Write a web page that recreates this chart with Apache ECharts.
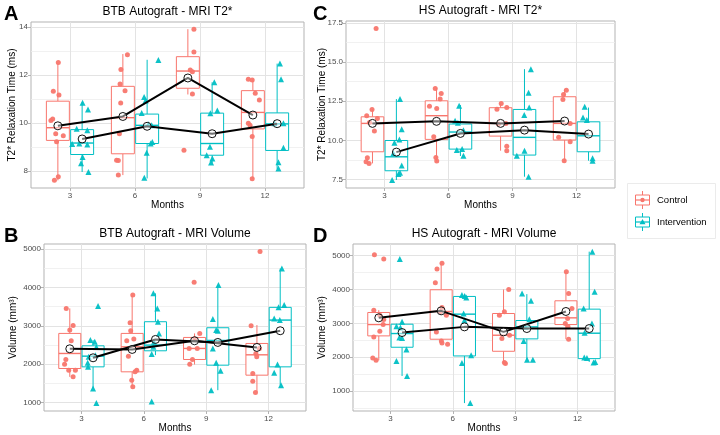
<!DOCTYPE html>
<html><head><meta charset="utf-8">
<script src="https://cdn.jsdelivr.net/npm/echarts@6/dist/echarts.min.js"></script>
<style>html,body{margin:0;padding:0;background:#fff}#c{width:720px;height:435px}</style>
</head><body><div id="c"></div>
<script>
// ---------------- DATA ----------------
const months = [3, 6, 9, 12];
const xTickLabels = [3, 6, 9, 12];
const groups = ['Control', 'Intervention'];

// Panel A: BTB Autograft - MRI T2*  (box: [lowWhisker, Q1, median, Q3, highWhisker])
const A_yTicks = [8, 10, 12, 14];
const A_yMinor = [9, 11, 13];
const A_ctrl_box = [[7.60, 9.27, 9.80, 10.91, 12.53], [7.82, 8.71, 10.22, 11.53, 12.88], [11.19, 11.45, 12.17, 12.77, 13.92], [7.65, 9.75, 10.44, 11.35, 11.84]];
const A_int_box  = [[7.95, 8.68, 9.16, 9.72, 10.87], [7.68, 9.14, 9.90, 10.37, 12.64], [8.33, 8.65, 9.14, 10.41, 11.70], [8.08, 8.85, 9.96, 10.42, 12.48]];
const A_ctrl_mean = [9.88, 10.27, 11.88, 10.33];
const A_int_mean  = [9.33, 9.86, 9.55, 9.97];
const A_ctrl_pts = [[2.46,12.53],[2.23,11.33],[2.49,11.17],[2.12,10.10],[2.20,10.16],[2.34,9.55],[2.69,9.46],[2.38,9.21],[2.46,7.75],[2.28,7.60],
  [5.65,12.85],[5.35,12.23],[5.31,11.63],[5.54,11.35],[5.34,10.83],[5.28,9.55],[5.15,8.44],[5.23,8.43],[5.23,7.82],
  [8.72,13.92],[8.72,12.97],[8.55,12.21],[8.65,12.14],[8.65,11.21],[8.26,8.86],
  [11.23,11.83],[11.41,11.79],[11.55,11.24],[11.74,10.96],[11.23,9.99],[11.31,9.90],[11.41,9.43],[11.41,7.67]];
const A_int_pts = [[3.58,10.84],[3.83,10.56],[3.31,9.76],[3.80,9.69],[3.10,9.12],[3.43,9.14],[3.80,9.10],[3.58,8.58],[3.51,8.31],[3.85,7.95],
  [7.08,12.63],[6.42,11.08],[6.49,10.94],[6.31,10.42],[6.62,9.94],[6.77,9.90],[6.80,9.20],[6.72,9.14],[6.54,8.75],[6.43,7.71],
  [9.66,11.70],[9.80,10.52],[9.48,10.41],[9.46,9.00],[9.31,8.65],[9.57,8.51],[9.51,8.35],
  [12.69,12.48],[12.74,11.83],[12.44,9.99],[12.85,9.99],[12.85,8.96],[12.62,8.36],[12.62,8.10]];

// Panel B: BTB Autograft - MRI Volume
const B_yTicks = [1000, 2000, 3000, 4000, 5000];
const B_yMinor = [1500, 2500, 3500, 4500];
const B_ctrl_box = [[1671, 1889, 2281, 2804, 3457], [1410, 1802, 2455, 2804, 3806], [1993, 2124, 2412, 2699, 2804], [1279, 1715, 2246, 2542, 3022]];
const B_int_box  = [[1366, 1932, 2211, 2481, 2630], [2237, 2351, 2499, 3109, 3850], [1323, 1976, 2621, 2952, 4068], [1453, 1932, 3152, 3484, 4495]];
const B_ctrl_mean = [2403, 2386, 2612, 2438];
const B_int_mean  = [2168, 2647, 2569, 2874];
const B_ctrl_pts = [[2.27,3457],[2.60,3013],[2.44,2891],[2.51,2612],[2.25,2124],[2.19,2002],[2.39,1845],[2.71,1845],[2.60,1671],
  [5.47,3806],[5.34,3083],[5.37,2874],[5.52,2656],[5.18,2612],[5.26,2211],[5.66,1845],[5.58,1802],[5.42,1584],[5.47,1410],
  [8.42,4137],[8.69,2804],[8.45,2664],[8.18,2412],[8.57,2412],[8.34,2124],[8.21,2002],
  [11.59,4939],[11.16,3004],[11.56,2412],[11.39,2281],[11.43,2194],[11.24,1758],[11.24,1558],[11.37,1261]];
const B_int_pts = [[3.80,3519],[3.43,2630],[3.64,2586],[3.72,2447],[3.67,2237],[3.35,2194],[3.30,2037],[3.32,1932],[3.56,1366],[3.72,991],
  [6.46,3850],[6.65,3457],[6.68,3109],[6.73,2804],[6.49,2586],[6.46,2455],[6.38,2264],[6.38,1026],
  [9.59,4068],[9.32,3179],[9.48,2891],[9.56,2874],[9.32,2412],[9.48,2037],[9.69,1828],[9.24,1323],
  [12.64,4495],[12.75,3545],[12.48,3484],[12.27,3196],[12.54,3152],[12.43,1993],[12.27,1776],[12.60,1453]];

// Panel C: HS Autograft - MRI T2*
const C_yTicks = [7.5, 10, 12.5, 15, 17.5];
const C_yMinor = [8.75, 11.25, 13.75, 16.25];
const C_ctrl_box = [[8.54, 9.28, 11.09, 11.51, 12.0], [8.65, 10.07, 11.58, 12.53, 13.34], [9.35, 10.28, 11.09, 12.09, 12.36], [8.71, 10.03, 11.09, 12.79, 13.25]];
const C_int_box  = [[7.48, 8.07, 8.96, 10.0, 12.64], [9.01, 9.45, 10.54, 11.05, 12.26], [7.69, 9.07, 10.2, 11.98, 14.55], [8.71, 9.28, 10.3, 11.19, 12.1]];
const C_ctrl_mean = [11.09, 11.22, 11.09, 11.24];
const C_int_mean  = [9.26, 10.45, 10.66, 10.41];
const C_ctrl_pts = [[2.61,17.14],[2.42,11.98],[2.17,11.58],[2.67,11.41],[2.30,11.15],[2.53,10.60],[2.20,8.90],[2.14,8.65],[2.28,8.54],
  [5.38,13.32],[5.66,13.0],[5.61,12.64],[5.11,12.19],[5.45,12.04],[5.31,10.24],[5.41,8.92],[5.45,8.69],
  [8.47,12.36],[8.27,12.0],[8.73,12.1],[8.69,11.09],[8.34,11.05],[8.73,9.64],[8.73,9.35],
  [11.52,13.21],[11.39,12.94],[11.36,12.62],[11.70,11.09],[11.16,10.2],[11.70,9.92],[11.42,8.71]];
const C_int_pts = [[3.73,12.64],[3.81,10.71],[3.70,10.07],[3.47,9.86],[3.42,9.18],[3.81,8.41],[3.73,7.95],[3.66,7.86],[3.36,7.48],
  [6.50,12.21],[6.31,11.26],[6.44,11.13],[6.70,10.66],[6.39,9.39],[6.64,9.45],[6.70,9.03],
  [9.86,14.55],[9.75,13.04],[9.78,12.1],[9.55,11.62],[9.20,9.03],[9.56,9.35],[9.75,7.69],
  [12.38,12.15],[12.30,11.47],[12.48,11.30],[12.75,8.86],[12.75,8.71]];

// Panel D: HS Autograft - MRI Volume
const D_yTicks = [1000, 2000, 3000, 4000, 5000];
const D_yMinor = [500, 1500, 2500, 3500, 4500];
const D_ctrl_box = [[1909, 2630, 2965, 3321, 3390], [2383, 2531, 3351, 3993, 4773], [1810, 2175, 2649, 3291, 4002], [2531, 2965, 3163, 3667, 4526]];
const D_int_box  = [[1444, 2294, 2699, 2975, 3044], [644, 2037, 3272, 3795, 3854], [1928, 2541, 2896, 3084, 3864], [1859, 1958, 2709, 3420, 5119]];
const D_ctrl_mean = [3163, 3370, 2748, 3351];
const D_int_mean  = [2728, 2896, 2847, 2847];
const D_ctrl_pts = [[2.23,5030],[2.68,4901],[2.20,3390],[2.49,3242],[2.68,3114],[2.65,2965],[2.49,2768],[2.20,2600],[2.15,1978],[2.31,1909],
  [5.48,4773],[5.24,4605],[5.16,4200],[5.48,3469],[5.40,3341],[5.69,3242],[5.21,2748],[5.45,2481],[5.48,2422],[5.75,2383],
  [8.69,4002],[8.48,3341],[8.24,3242],[8.73,2649],[8.36,2551],[8.53,1810],[8.48,1840],
  [11.46,4526],[11.57,3884],[11.73,3440],[11.52,3143],[11.41,2995],[11.54,2896],[11.57,2531]];
const D_int_pts = [[3.45,4901],[3.56,3044],[3.29,2916],[3.48,2877],[3.43,2580],[3.56,2570],[3.77,2225],[3.29,1889],[3.80,1444],
  [6.44,3835],[6.57,3805],[6.65,3765],[6.52,3291],[6.56,3094],[6.88,2057],[6.44,1830],[6.84,644],
  [9.33,3884],[9.76,3667],[9.68,3124],[9.49,2896],[9.41,2481],[9.57,1928],[9.85,1928],
  [12.71,5119],[12.82,3933],[12.29,3440],[12.69,2995],[12.34,2719],[12.32,1988],[12.45,1978],[12.85,1859],[12.77,1840]];

// ---------------- STYLE / LAYOUT ----------------
const RED = '#F8766D', TEAL = '#00BFC4';
const DODGE = 0.56, HALF_W = 0.53;
const FONT = '"Liberation Sans", Arial, Helvetica, sans-serif';

const panels = [
  {letter:'A', title:'BTB Autograft - MRI T2*', ytitle:'T2* Relaxation Time (ms)', grid:{left:31, top:22, width:273, height:166},
   yMin:7.28, yMax:14.22, yTicks:A_yTicks, yMinor:A_yMinor, fmt:v=>String(v),
   cb:A_ctrl_box, ib:A_int_box, cm:A_ctrl_mean, im:A_int_mean, cp:A_ctrl_pts, ip:A_int_pts,
   letterPos:[4,4], ytx:12},
  {letter:'B', title:'BTB Autograft - MRI Volume', ytitle:'Volume (mm\u00B3)', grid:{left:44, top:244, width:262, height:167},
   yMin:780, yMax:5137, yTicks:B_yTicks, yMinor:B_yMinor, fmt:v=>String(v),
   cb:B_ctrl_box, ib:B_int_box, cm:B_ctrl_mean, im:B_int_mean, cp:B_ctrl_pts, ip:B_int_pts,
   letterPos:[4,226], ytx:13},
  {letter:'C', title:'HS Autograft - MRI T2*', ytitle:'T2* Relaxation Time (ms)', grid:{left:346, top:21, width:269, height:167},
   yMin:6.97, yMax:17.62, yTicks:C_yTicks, yMinor:C_yMinor, fmt:v=>v.toFixed(1),
   cb:C_ctrl_box, ib:C_int_box, cm:C_ctrl_mean, im:C_int_mean, cp:C_ctrl_pts, ip:C_int_pts,
   letterPos:[313,4], ytx:322},
  {letter:'D', title:'HS Autograft - MRI Volume', ytitle:'Volume (mm\u00B3)', grid:{left:353, top:244, width:262, height:167},
   yMin:410, yMax:5345, yTicks:D_yTicks, yMinor:D_yMinor, fmt:v=>String(v),
   cb:D_ctrl_box, ib:D_int_box, cm:D_ctrl_mean, im:D_int_mean, cp:D_ctrl_pts, ip:D_int_pts,
   letterPos:[313,226], ytx:322}
];

function boxRender(color) {
  return function (params, api) {
    const x = api.value(0);
    const pLo = api.coord([x, api.value(1)]);
    const pQ1 = api.coord([x, api.value(2)]);
    const pMed = api.coord([x, api.value(3)]);
    const pQ3 = api.coord([x, api.value(4)]);
    const pHi = api.coord([x, api.value(5)]);
    const xl = api.coord([x - HALF_W, api.value(3)])[0];
    const xr = api.coord([x + HALF_W, api.value(3)])[0];
    const st = {stroke: color, lineWidth: 1, fill: null};
    return {type: 'group', children: [
      {type: 'line', shape: {x1: pLo[0], y1: pLo[1], x2: pQ1[0], y2: pQ1[1]}, style: st},
      {type: 'line', shape: {x1: pQ3[0], y1: pQ3[1], x2: pHi[0], y2: pHi[1]}, style: st},
      {type: 'rect', shape: {x: xl, y: pQ3[1], width: xr - xl, height: pQ1[1] - pQ3[1]}, style: {stroke: color, lineWidth: 1, fill: '#fff'}},
      {type: 'line', shape: {x1: xl, y1: pMed[1], x2: xr, y2: pMed[1]}, style: {stroke: color, lineWidth: 1.4}}
    ]};
  };
}

const grid = [], xAxis = [], yAxis = [], series = [], graphic = [];
panels.forEach((p, i) => {
  grid.push(Object.assign({show: true, borderColor: '#B3B3B3', borderWidth: 1, backgroundColor: '#fff', containLabel: false}, p.grid));
  xAxis.push({gridIndex: i, type: 'value', min: 1.2, max: 13.8,
    axisLine: {show: false},
    axisTick: {show: true, customValues: xTickLabels, length: 3, lineStyle: {color: '#B3B3B3'}},
    axisLabel: {customValues: xTickLabels, color: '#4D4D4D', fontSize: 8, margin: 4, fontFamily: FONT},
    splitLine: {show: true, lineStyle: {color: '#E3E3E3', width: 1}}});
  yAxis.push({gridIndex: i, type: 'value', min: p.yMin, max: p.yMax,
    axisLine: {show: false},
    axisTick: {show: true, customValues: p.yTicks, length: 3, lineStyle: {color: '#B3B3B3'}},
    axisLabel: {customValues: p.yTicks, color: '#4D4D4D', fontSize: 8, margin: 3, fontFamily: FONT, formatter: p.fmt},
    splitLine: {show: true, lineStyle: {color: '#E3E3E3', width: 1}}});
  yAxis.push({gridIndex: i, type: 'value', min: p.yMin, max: p.yMax,
    axisLine: {show: false},
    axisTick: {show: false, customValues: p.yMinor},
    axisLabel: {show: false, customValues: p.yMinor},
    splitLine: {show: true, lineStyle: {color: '#EDEDED', width: 0.8}}});
  const yi = 2 * i;
  [[p.cb, RED, -DODGE], [p.ib, TEAL, DODGE]].forEach(([box, col, off], g) => {
    series.push({type: 'custom', name: groups[g], xAxisIndex: i, yAxisIndex: yi, z: 2,
      renderItem: boxRender(col), encode: {x: 0, y: [1, 2, 3, 4, 5]},
      data: months.map((m, k) => [m + off].concat(box[k]))});
  });
  series.push({type: 'scatter', name: 'Control', xAxisIndex: i, yAxisIndex: yi, z: 3, symbol: 'circle', symbolSize: 5,
    itemStyle: {color: RED, opacity: 0.95}, data: p.cp});
  series.push({type: 'scatter', name: 'Intervention', xAxisIndex: i, yAxisIndex: yi, z: 3, symbol: 'triangle', symbolSize: 6,
    itemStyle: {color: TEAL, opacity: 0.95}, data: p.ip});
  [[p.cm, -DODGE], [p.im, DODGE]].forEach(([mean, off]) => {
    series.push({type: 'line', xAxisIndex: i, yAxisIndex: yi, z: 4, symbol: 'circle', symbolSize: 8, showSymbol: true,
      lineStyle: {color: '#000', width: 2}, itemStyle: {color: 'rgba(255,255,255,0.45)', borderColor: '#111', borderWidth: 1},
      data: months.map((m, k) => [m + off, mean[k]])});
  });
  const g = p.grid;
  graphic.push({type: 'text', x: g.left + g.width / 2, y: g.top - 10, style: {text: p.title, fontSize: 12, fontFamily: FONT, fill: '#000', align: 'center', verticalAlign: 'middle'}});
  graphic.push({type: 'text', x: p.letterPos[0], y: p.letterPos[1], style: {text: p.letter, fontSize: 20, fontWeight: 'bold', fontFamily: FONT, fill: '#000', align: 'left', verticalAlign: 'top'}});
  graphic.push({type: 'text', x: g.left + g.width / 2, y: g.top + g.height + 17, style: {text: 'Months', fontSize: 10, fontFamily: FONT, fill: '#000', align: 'center', verticalAlign: 'middle'}});
  graphic.push({type: 'text', x: p.ytx, y: g.top + g.height / 2, rotation: Math.PI / 2, style: {text: p.ytitle, fontSize: 10, fontFamily: FONT, fill: '#000', align: 'center', verticalAlign: 'middle'}});
});

// legend
graphic.push({type: 'rect', shape: {x: 627.5, y: 183.5, width: 88, height: 55}, style: {fill: '#fff', stroke: '#EBEBEB', lineWidth: 1}});
[[groups[0], RED, 200, 'circle'], [groups[1], TEAL, 222, 'triangle']].forEach(([name, col, cy, shp]) => {
  const cx = 642.5;
  graphic.push({type: 'line', shape: {x1: cx, y1: cy - 9, x2: cx, y2: cy + 9}, style: {stroke: col, lineWidth: 1}});
  graphic.push({type: 'rect', shape: {x: cx - 7, y: cy - 5, width: 14, height: 10}, style: {stroke: col, fill: '#fff', lineWidth: 1}});
  graphic.push({type: 'line', shape: {x1: cx - 7, y1: cy, x2: cx + 7, y2: cy}, style: {stroke: col, lineWidth: 1.2}});
  if (shp === 'circle') graphic.push({type: 'circle', shape: {cx: cx, cy: cy, r: 2.2}, style: {fill: col}});
  else graphic.push({type: 'polygon', shape: {points: [[cx, cy - 3], [cx - 3, cy + 2.2], [cx + 3, cy + 2.2]]}, style: {fill: col}});
  graphic.push({type: 'text', x: 657, y: cy, style: {text: name, fontSize: 9.5, fontFamily: FONT, fill: '#000', align: 'left', verticalAlign: 'middle'}});
});

const chart = echarts.init(document.getElementById('c'), null, {renderer: 'canvas'});
chart.setOption({animation: false, backgroundColor: '#fff', grid, xAxis, yAxis, series, graphic});
</script>
</body></html>
